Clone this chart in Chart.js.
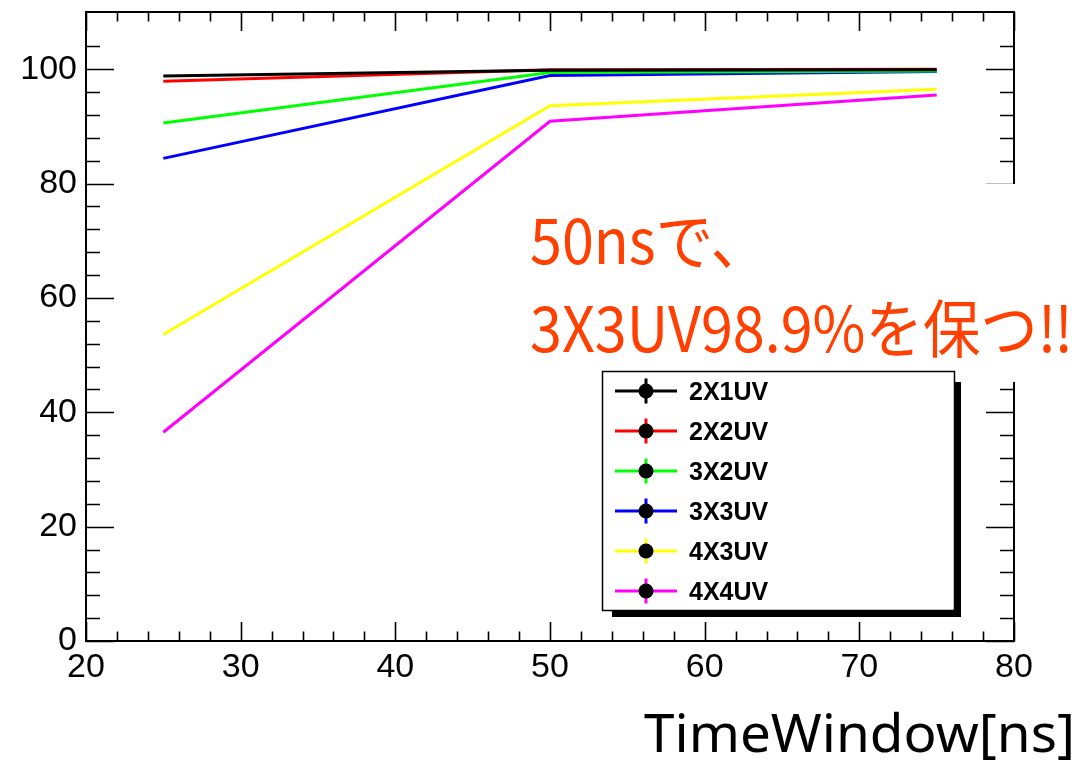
<!DOCTYPE html>
<html>
<head>
<meta charset="utf-8">
<script src="https://cdn.jsdelivr.net/npm/chart.js@4.4.1/dist/chart.umd.min.js"></script>
<style>
  html, body { margin: 0; padding: 0; background: #fff; }
  #wrap { position: relative; width: 1089px; height: 768px; overflow: hidden; }
  #c { position: absolute; left: 0; top: 0; }
  .txt { position: absolute; white-space: nowrap; transform-origin: 0 0; margin: 0; padding: 0; }
  #note-bg { position: absolute; left: 965px; top: 184px; width: 124px; height: 198px; background: #fff; }
</style>
</head>
<body>
<div id="wrap">
  <canvas id="c" width="1089" height="768"></canvas>
  <div id="note-bg"></div>
  <div class="txt" id="note1">50nsで、</div>
  <div class="txt" id="note2">3X3UV98.9%を保つ‼</div>
  <div class="txt" id="xtitle">TimeWindow[ns]</div>
</div>
<script>
// ---- data ----
const timeWindows = [25, 50, 75];
const seriesLabels = ['2X1UV', '2X2UV', '3X2UV', '3X3UV', '4X3UV', '4X4UV'];
const seriesColors = ['#000000', '#ff0000', '#00ff00', '#0000ff', '#ffff00', '#ff00ff'];
const eff2X1UV = [98.8, 99.8, 99.9];
const eff2X2UV = [97.9, 99.9, 100.0];
const eff3X2UV = [90.6, 99.4, 99.7];
const eff3X3UV = [84.4, 98.9, 99.6];
const eff4X3UV = [53.6, 93.6, 96.5];
const eff4X4UV = [36.5, 90.9, 95.5];
const xTickValues = [20, 30, 40, 50, 60, 70, 80];
const yTickValues = [0, 20, 40, 60, 80, 100];

const allSeries = [eff2X1UV, eff2X2UV, eff3X2UV, eff3X3UV, eff4X3UV, eff4X4UV];

const datasets = allSeries.map((vals, i) => ({
  label: seriesLabels[i],
  data: timeWindows.map((t, j) => ({ x: t, y: vals[j] })),
  borderColor: seriesColors[i],
  backgroundColor: seriesColors[i],
  borderWidth: 3,
  pointRadius: 0,
  tension: 0,
  fill: false
}));

const tickFont = { family: "'Liberation Sans', Arial, Helvetica, sans-serif", size: 34 };

// ROOT-style frame with inward ticks on all four sides
const framePlugin = {
  id: 'rootFrame',
  afterDatasetsDraw(chart) {
    const { ctx, chartArea: a, scales: { x, y } } = chart;
    ctx.save();
    ctx.strokeStyle = '#000';
    ctx.lineWidth = 2;
    ctx.strokeRect(a.left, a.top, a.right - a.left, a.bottom - a.top);
    ctx.lineWidth = 1.6;
    ctx.beginPath();
    for (let v = 20; v <= 80; v += 2) {
      const px = Math.round(x.getPixelForValue(v)) + 0.5;
      const len = (v % 10 === 0) ? 19 : 9.5;
      ctx.moveTo(px, a.bottom); ctx.lineTo(px, a.bottom - len);
      ctx.moveTo(px, a.top); ctx.lineTo(px, a.top + len);
    }
    for (let v = 0; v <= 104; v += 4) {
      const py = Math.round(y.getPixelForValue(v)) + 0.5;
      const len = (v % 20 === 0) ? 28 : 14;
      ctx.moveTo(a.left, py); ctx.lineTo(a.left + len, py);
      ctx.moveTo(a.right, py); ctx.lineTo(a.right - len, py);
    }
    ctx.stroke();
    ctx.restore();
  }
};

// ROOT-style legend box with shadow
const legendPlugin = {
  id: 'rootLegend',
  afterDraw(chart) {
    const ctx = chart.ctx;
    const bx = 602, by = 371, bw = 352, bh = 239;
    ctx.save();
    ctx.fillStyle = '#000';
    ctx.fillRect(612, 382, 349, 235);
    ctx.fillStyle = '#fff';
    ctx.fillRect(bx, by, bw, bh);
    ctx.strokeStyle = '#000';
    ctx.lineWidth = 1.5;
    ctx.strokeRect(bx + 0.5, by + 0.5, bw, bh);
    chart.data.datasets.forEach((ds, i) => {
      const cy = 391 + i * 40;
      ctx.strokeStyle = ds.borderColor;
      ctx.lineWidth = 3;
      ctx.beginPath();
      ctx.moveTo(615, cy); ctx.lineTo(677, cy);
      ctx.moveTo(646, cy - 12.5); ctx.lineTo(646, cy + 12.5);
      ctx.stroke();
      ctx.fillStyle = '#000';
      ctx.beginPath();
      ctx.arc(646, cy, 7.5, 0, Math.PI * 2);
      ctx.fill();
      ctx.font = "bold 25px 'Liberation Sans', Arial, Helvetica, sans-serif";
      ctx.textBaseline = 'alphabetic';
      ctx.textAlign = 'left';
      ctx.fillText(ds.label, 689, cy + 9);
    });
    ctx.restore();
  }
};

new Chart(document.getElementById('c'), {
  type: 'line',
  data: { datasets },
  options: {
    responsive: false,
    animation: false,
    devicePixelRatio: 1,
    layout: { padding: { left: 0, right: 75, top: 12, bottom: 0 } },
    plugins: { legend: { display: false }, tooltip: { enabled: false } },
    scales: {
      x: {
        type: 'linear',
        min: 20, max: 80,
        afterFit(s) { s.height = 127; s.paddingLeft = 0; s.paddingRight = 0; },
        afterBuildTicks(s) { s.ticks = xTickValues.map(v => ({ value: v })); },
        ticks: { font: tickFont, color: '#000', padding: 6, maxRotation: 0, autoSkip: false },
        grid: { display: false, drawTicks: false },
        border: { display: false }
      },
      y: {
        type: 'linear',
        min: 0, max: 110,
        afterFit(s) { s.width = 86; s.paddingTop = 0; s.paddingBottom = 0; },
        afterBuildTicks(s) { s.ticks = yTickValues.map(v => ({ value: v })); },
        ticks: { font: tickFont, color: '#000', padding: 9, autoSkip: false },
        grid: { display: false, drawTicks: false },
        border: { display: false }
      }
    }
  },
  plugins: [framePlugin, legendPlugin]
});

// place HTML text by baseline and fit widths
function placeText(id, font, color, left, baseline, targetWidth) {
  const el = document.getElementById(id);
  const m = document.createElement('canvas').getContext('2d');
  m.font = font;
  const tm = m.measureText(el.textContent);
  const asc = tm.fontBoundingBoxAscent, desc = tm.fontBoundingBoxDescent;
  el.style.font = font;
  el.style.lineHeight = (asc + desc) + 'px';
  el.style.color = color;
  el.style.left = left + 'px';
  el.style.top = (baseline - asc) + 'px';
  const sx = targetWidth ? targetWidth / tm.width : 1;
  el.style.transform = 'scaleX(' + sx + ')';
  return sx;
}
const noteFont = "63px 'Noto Sans CJK JP', 'Noto Sans CJK SC', sans-serif";
const noteColor = '#ff4000';
const sx = placeText('note2', noteFont, noteColor, 530, 352, 543);
const el1 = document.getElementById('note1');
placeText('note1', noteFont, noteColor, 530, 264, null);
el1.style.transform = 'scaleX(' + sx + ')';
placeText('xtitle', "53px 'Noto Sans', 'Open Sans', sans-serif", '#000', 644, 752, 431);
</script>
</body>
</html>
